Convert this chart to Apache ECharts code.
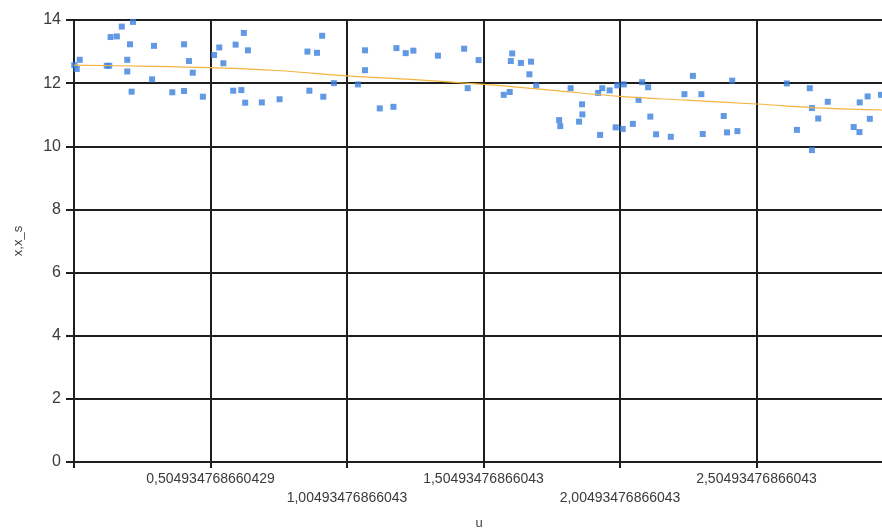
<!DOCTYPE html>
<html>
<head>
<meta charset="utf-8">
<script src="https://cdn.jsdelivr.net/npm/echarts@6/dist/echarts.min.js"></script>
<style>
  html, body { margin: 0; padding: 0; background: #fff; }
  #chart { width: 882px; height: 531px; }
</style>
</head>
<body>
<div id="chart"></div>
<script>
// Observed samples: u and x
const sampleU = [
  0.006, 0.015, 0.026, 0.125, 0.134, 0.139, 0.162, 0.180, 0.221, 0.210,
  0.200, 0.200, 0.216, 0.298, 0.291, 0.365, 0.408, 0.408, 0.426, 0.440,
  0.477, 0.518, 0.537, 0.552, 0.597, 0.627, 0.642, 0.588, 0.618, 0.632,
  0.693, 0.758, 0.867, 0.918, 0.860, 0.895, 0.914, 0.957, 1.045, 1.071,
  1.071, 1.125, 1.175, 1.186, 1.220, 1.248, 1.338, 1.434, 1.447, 1.487,
  1.579, 1.601, 1.610, 1.605, 1.642, 1.679, 1.673, 1.698, 1.824, 1.782,
  1.786, 1.866, 1.867, 1.855, 1.925, 1.940, 1.967, 1.932, 1.995, 2.019,
  1.989, 2.015, 2.052, 2.086, 2.108, 2.073, 2.116, 2.137, 2.191, 2.241,
  2.272, 2.303, 2.308, 2.385, 2.397, 2.416, 2.435, 2.616, 2.653, 2.700,
  2.708, 2.731, 2.708, 2.766, 2.861, 2.882, 2.883, 2.912, 2.920, 2.961
];
const sampleX = [
  12.57, 12.45, 12.74, 12.55, 12.55, 13.46, 13.48, 13.79, 13.94, 13.23,
  12.74, 12.37, 11.73, 13.18, 12.12, 11.71, 11.75, 13.23, 12.70, 12.33,
  11.57, 12.89, 13.13, 12.63, 13.22, 13.59, 13.04, 11.76, 11.78, 11.38,
  11.39, 11.49, 11.76, 11.57, 13.00, 12.96, 13.50, 12.00, 11.96, 13.04,
  12.41, 11.20, 11.25, 13.11, 12.95, 13.03, 12.87, 13.09, 11.84, 12.73,
  11.63, 11.72, 12.94, 12.70, 12.64, 12.68, 12.28, 11.93, 11.84, 10.83,
  10.64, 11.33, 11.01, 10.78, 11.69, 11.84, 11.77, 10.36, 11.93, 11.96,
  10.60, 10.55, 10.71, 12.03, 11.87, 11.47, 10.94, 10.38, 10.30, 11.65,
  12.23, 11.65, 10.39, 10.96, 10.44, 12.08, 10.48, 11.99, 10.52, 11.84,
  11.21, 10.88, 9.88, 11.41, 10.61, 10.45, 11.39, 11.58, 10.87, 11.63
];

// Smoothed fit x_s
const smoothU = [0.005, 0.25, 0.505, 0.75, 1.005, 1.25, 1.505, 1.75, 2.005, 2.25, 2.505, 2.75, 2.965];
const smoothX = [12.57, 12.54, 12.49, 12.40, 12.23, 12.11, 11.96, 11.78, 11.58, 11.46, 11.34, 11.21, 11.15];

// Axis tick labels
const uTickLabels = ['0,504934768660429', '1,00493476866043', '1,50493476866043', '2,00493476866043', '2,50493476866043'];
const xTickValues = [0, 2, 4, 6, 8, 10, 12, 14];

const uMin = 0.00493476866043;
const uTickNums = uTickLabels.map(s => parseFloat(s.replace(',', '.')));

const chart = echarts.init(document.getElementById('chart'), null, { renderer: 'canvas' });

const gridLine = { color: '#1e1e1e', width: 2 };
const fontFamily = '"Liberation Sans", Arial, sans-serif';

chart.setOption({
  animation: false,
  backgroundColor: '#ffffff',
  grid: { left: 74, top: 20, right: -2, bottom: 69, containLabel: false, outerBoundsMode: 'none' },
  xAxis: {
    type: 'value',
    min: uMin,
    max: uMin + 810 / 273,
    interval: 0.5,
    name: 'u',
    nameLocation: 'middle',
    nameGap: 55,
    nameTextStyle: { fontFamily, fontSize: 13, color: '#444' },
    axisLine: { show: true, onZero: false, lineStyle: gridLine },
    axisTick: { show: true, length: 6, lineStyle: gridLine },
    splitLine: { show: true, lineStyle: gridLine },
    axisLabel: {
      fontFamily, fontSize: 14, color: '#3a3a3a', margin: 8, lineHeight: 18.5,
      hideOverlap: false,
      formatter: function (v) {
        for (let i = 0; i < uTickNums.length; i++) {
          if (Math.abs(uTickNums[i] - v) < 0.01) {
            return (i % 2 === 1 ? '\n' : '') + uTickLabels[i];
          }
        }
        return '';
      }
    }
  },
  yAxis: {
    type: 'value',
    min: xTickValues[0],
    max: xTickValues[xTickValues.length - 1],
    interval: 2,
    name: 'x,x_s',
    nameLocation: 'middle',
    nameGap: 49,
    nameRotate: 90,
    nameTextStyle: { fontFamily, fontSize: 13, color: '#444' },
    axisLine: { show: true, lineStyle: gridLine },
    axisTick: { show: true, length: 8, lineStyle: gridLine },
    splitLine: { show: true, lineStyle: gridLine },
    axisLabel: { fontFamily, fontSize: 16, color: '#3a3a3a', margin: 13 }
  },
  series: [
    {
      name: 'x',
      type: 'scatter',
      symbol: 'rect',
      symbolSize: 6,
      itemStyle: { color: '#3b7fdf' },
      data: sampleU.map((u, i) => [u, sampleX[i]]),
      z: 3
    },
    {
      name: 'x_s',
      type: 'line',
      smooth: 0.4,
      showSymbol: false,
      lineStyle: { color: '#f2b441', width: 1.2 },
      data: smoothU.map((u, i) => [u, smoothX[i]]),
      z: 4
    }
  ]
});
</script>
</body>
</html>
